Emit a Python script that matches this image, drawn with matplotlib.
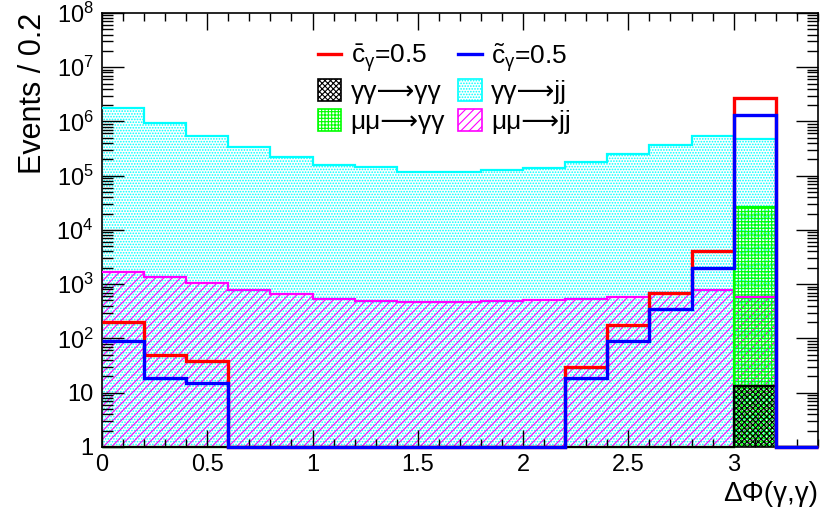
import matplotlib
matplotlib.use("Agg")
import matplotlib.pyplot as plt
from matplotlib.patches import Patch
from matplotlib.lines import Line2D
from matplotlib.ticker import LogLocator, MultipleLocator, FuncFormatter
import numpy as np

plt.rcParams['font.family'] = ['Liberation Sans', 'DejaVu Sans']
plt.rcParams['mathtext.fontset'] = 'custom'
plt.rcParams['mathtext.rm'] = 'Liberation Sans'
plt.rcParams['mathtext.it'] = 'Liberation Sans:italic'
plt.rcParams['hatch.linewidth'] = 0.8

# bin edges of Delta Phi, width 0.2
edges = [0.0, 0.2, 0.4, 0.6, 0.8, 1.0, 1.2, 1.4, 1.6, 1.8, 2.0,
         2.2, 2.4, 2.6, 2.8, 3.0, 3.2, 3.4]

# events per bin
gg_jj = [1.75e6, 9.5e5, 5.4e5, 3.4e5, 2.2e5, 1.6e5, 1.45e5, 1.15e5, 1.18e5,
         1.25e5, 1.38e5, 1.8e5, 2.55e5, 3.7e5, 5.4e5, 4.8e5, 0]
mm_jj = [1.7e3, 1.38e3, 1.03e3, 7.7e2, 6.5e2, 5.4e2, 4.9e2, 4.6e2, 4.6e2,
         4.8e2, 5.0e2, 5.4e2, 5.9e2, 6.8e2, 7.8e2, 5.9e2, 0]
mm_gg = [0, 0, 0, 0, 0, 0, 0, 0, 0, 0, 0, 0, 0, 0, 0, 2.6e4, 0]
gg_gg = [0, 0, 0, 0, 0, 0, 0, 0, 0, 0, 0, 0, 0, 0, 0, 13, 0]
cbar = [200, 50, 39, 0, 0, 0, 0, 0, 0, 0, 0, 30, 178, 690, 4000, 2.7e6, 0]
ctil = [90, 18.6, 15, 0, 0, 0, 0, 0, 0, 0, 0, 18.6, 88, 350, 1950, 1.32e6, 0]

ymin = 1.0

fig = plt.figure(figsize=(8.22, 5.19), dpi=100)
ax = fig.add_axes([0.124, 0.139, 0.871, 0.836])
ax.set_yscale('log')

def clip(v):
    return np.clip(np.asarray(v, dtype=float), ymin, None)

# filled, hatched histograms
fills = [(gg_jj, '#00ffff', '......'),
         (mm_jj, '#ff00ff', '////'),
         (mm_gg, '#00ff00', '+++++'),
         (gg_gg, '#000000', 'xxxxxx')]
for i, (vals, col, hat) in enumerate(fills):
    ax.stairs(clip(vals), edges, baseline=ymin, fill=True, facecolor='none',
              edgecolor=col, hatch=hat, linewidth=0, zorder=1 + i * 0.1)
for i, (vals, col, hat) in enumerate(fills):
    ax.stairs(clip(vals), edges, baseline=None, color=col, linewidth=1.6,
              zorder=3 + i * 0.1, clip_on=False)

ax.stairs(clip(cbar), edges, baseline=None, color='#ff0000', linewidth=2.4,
          zorder=4, clip_on=False)
ax.stairs(clip(ctil), edges, baseline=None, color='#0000ff', linewidth=2.4,
          zorder=4.1, clip_on=False)

ax.set_xlim(0, 3.4)
ax.set_ylim(ymin, 1e8)

ax.xaxis.set_major_locator(MultipleLocator(0.5))
ax.xaxis.set_minor_locator(MultipleLocator(0.1))
ax.yaxis.set_major_locator(LogLocator(base=10, numticks=20))
ax.yaxis.set_minor_locator(LogLocator(base=10, subs=np.arange(2, 10), numticks=20))

def yfmt(v, pos):
    e = int(round(np.log10(v)))
    if e == 0:
        return '1'
    if e == 1:
        return '10'
    return r'$\mathregular{10^{%d}}$' % e

def xfmt(v, pos):
    return '%g' % v

ax.yaxis.set_major_formatter(FuncFormatter(yfmt))
ax.xaxis.set_major_formatter(FuncFormatter(xfmt))
ax.tick_params(which='both', direction='in', top=True, right=True,
               labelsize=17, width=1)
ax.tick_params(axis='y', which='major', length=16, pad=6)
ax.tick_params(axis='y', which='minor', length=8)
ax.tick_params(axis='x', which='major', length=12, pad=5)
ax.tick_params(axis='x', which='minor', length=6)
for s in ax.spines.values():
    s.set_linewidth(1.2)

ax.set_ylabel('Events / 0.2', fontsize=22, loc='top', labelpad=6)
ax.set_xlabel('ΔΦ(γ,γ)', fontsize=20, loc='right', labelpad=4)

handles = [Line2D([], [], color='#ff0000', linewidth=2.4),
           Patch(facecolor='none', edgecolor='#000000', hatch='xxxxxx', linewidth=1.2),
           Patch(facecolor='none', edgecolor='#00ff00', hatch='+++++', linewidth=1.2),
           Line2D([], [], color='#0000ff', linewidth=2.4),
           Patch(facecolor='none', edgecolor='#00ffff', hatch='......', linewidth=1.2),
           Patch(facecolor='none', edgecolor='#ff00ff', hatch='////', linewidth=1.2)]
labels = [r'$\mathregular{\bar{c}_{\gamma}}$=0.5', 'γγ⟶γγ', 'μμ⟶γγ',
          r'$\mathregular{\tilde{c}_{\gamma}}$=0.5', 'γγ⟶jj', 'μμ⟶jj']
ax.legend(handles, labels, ncol=2, frameon=False, fontsize=19,
          loc='upper left', bbox_to_anchor=(0.268, 0.99),
          handlelength=0.9, handleheight=0.9, handletextpad=0.35,
          columnspacing=0.5, labelspacing=0.18)

fig.savefig('out.png', dpi=100)
